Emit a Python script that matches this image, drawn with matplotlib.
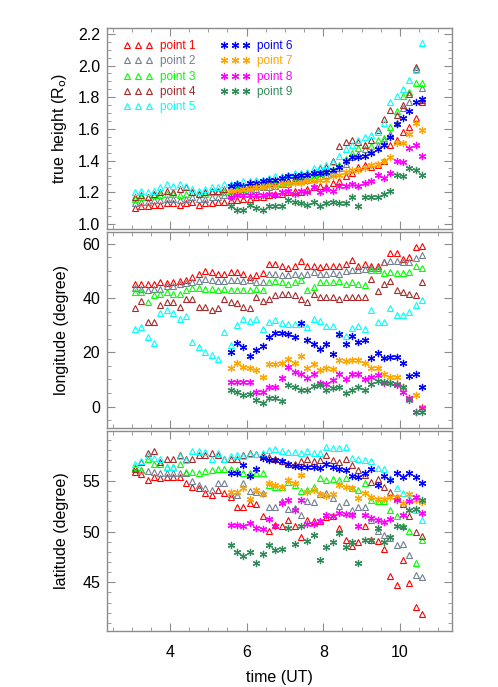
import numpy as np
import matplotlib.pyplot as plt
from matplotlib.ticker import MultipleLocator, FormatStrFormatter

plt.rcParams['font.family'] = ['Liberation Sans', 'DejaVu Sans']

#############################################
# time axis: 10 min cadence, points 1-5 start at ~3:05 UT, points 6-9 at ~5:35 UT
t_all = 3.0833 + np.arange(46) / 6.0
t_late = t_all[15:]

names = ['point 1', 'point 2', 'point 3', 'point 4', 'point 5',
         'point 6', 'point 7', 'point 8', 'point 9']
colors = ['#ff0000', '#708090', '#00ff00', '#a52a2a', '#00ffff',
          '#0000ff', '#ffa500', '#ff00ff', '#2e8b57']

#############################################
# true height (R_o)
h1 = [1.10, 1.11, 1.11, 1.12, 1.12, 1.13, 1.13, 1.12, 1.13, 1.14, 1.12, 1.13, 1.13, 1.14, 1.14, 1.15,
      1.15, 1.16, 1.16, 1.17, 1.17, 1.18, 1.19, 1.19, 1.20, 1.21, 1.20, 1.22, 1.23, 1.24, 1.23, 1.26,
      1.27, 1.30, 1.32, 1.36, 1.37, 1.36, 1.37, 1.40, 1.50, 1.53, 1.58, 1.61, 1.67, 1.77]
h2 = [1.13, 1.14, 1.14, 1.15, 1.15, 1.16, 1.16, 1.15, 1.16, 1.17, 1.16, 1.16, 1.17, 1.17, 1.18, 1.19,
      1.20, 1.21, 1.21, 1.22, 1.23, 1.23, 1.24, 1.25, 1.25, 1.27, 1.27, 1.28, 1.29, 1.30, 1.31, 1.32,
      1.35, 1.38, 1.42, 1.44, 1.47, 1.46, 1.50, 1.53, 1.57, 1.64, 1.73, 1.77, 1.98, 1.86]
h3 = [1.16, 1.17, 1.17, 1.18, 1.18, 1.19, 1.19, 1.18, 1.19, 1.20, 1.19, 1.19, 1.20, 1.20, 1.20, 1.21,
      1.22, 1.22, 1.23, 1.24, 1.24, 1.25, 1.26, 1.26, 1.27, 1.28, 1.29, 1.30, 1.31, 1.32, 1.33, 1.34,
      1.37, 1.41, 1.45, 1.48, 1.50, 1.49, 1.53, 1.54, 1.61, 1.71, 1.81, 1.83, 1.89, 1.89]
h4 = [1.17, 1.18, 1.17, 1.19, 1.20, 1.21, 1.20, 1.22, 1.23, 1.20, 1.19, 1.20, 1.21, 1.21, 1.22, 1.23,
      1.23, 1.24, 1.25, 1.25, 1.26, 1.26, 1.27, 1.28, 1.28, 1.29, 1.30, 1.32, 1.33, 1.35, 1.36, 1.40,
      1.49, 1.52, 1.53, 1.52, 1.50, 1.53, 1.59, 1.66, 1.72, 1.69, 1.75, 1.82, 1.99, 1.78]
h5 = [1.20, 1.21, 1.20, 1.21, 1.23, 1.25, 1.24, 1.25, 1.24, 1.22, 1.21, 1.22, 1.23, 1.23, 1.25, 1.25,
      1.26, 1.27, 1.27, 1.28, 1.28, 1.29, 1.30, 1.30, 1.31, 1.32, 1.32, 1.33, 1.35, 1.36, 1.37, 1.39,
      1.43, 1.47, 1.50, 1.53, 1.55, 1.56, 1.58, 1.64, 1.77, 1.81, 1.85, 1.91, 1.97, 2.14]
h6 = [1.24, 1.25, 1.24, 1.26, 1.26, 1.27, 1.28, 1.28, 1.29, 1.30, 1.30, 1.31, 1.31, 1.32, 1.32, 1.33,
      1.34, 1.36, 1.40, 1.42, 1.42, 1.43, 1.45, 1.47, 1.50, 1.55, 1.63, 1.67, 1.71, 1.77, 1.79]
h7 = [1.21, 1.21, 1.22, 1.22, 1.23, 1.23, 1.24, 1.24, 1.25, 1.25, 1.26, 1.26, 1.27, 1.27, 1.28, 1.28,
      1.30, 1.31, 1.33, 1.34, 1.34, 1.35, 1.37, 1.38, 1.40, 1.42, 1.51, 1.51, 1.57, 1.64, 1.59]
h8 = [1.17, 1.18, 1.18, 1.18, 1.18, 1.18, 1.19, 1.18, 1.20, 1.21, 1.19, 1.21, 1.20, 1.23, 1.20, 1.22,
      1.21, 1.24, 1.24, 1.25, 1.24, 1.26, 1.27, 1.31, 1.29, 1.32, 1.40, 1.39, 1.48, 1.50, 1.43]
h9 = [1.11, 1.09, 1.09, 1.12, 1.10, 1.09, 1.11, 1.11, 1.11, 1.15, 1.14, 1.13, 1.12, 1.14, 1.11, 1.13,
      1.14, 1.13, 1.13, 1.17, 1.11, 1.17, 1.17, 1.17, 1.19, 1.21, 1.31, 1.30, 1.35, 1.34, 1.31]

#############################################
# longitude (degree)
lon1 = [45.3, 45.3, 45.3, 45.3, 45.9, 45.5, 45.9, 46.5, 46.8, 47.8, 49.0, 50.0, 49.6, 49.0, 49.0, 49.6,
        49.6, 49.0, 47.8, 48.4, 49.2, 52.6, 52.6, 52.0, 51.2, 51.7, 53.6, 52.0, 51.7, 51.4, 52.0, 51.7,
        52.0, 52.6, 54.1, 51.7, 52.6, 52.0, 51.7, 53.3, 56.6, 56.6, 54.5, 55.3, 58.8, 59.4]
lon2 = [43.8, 43.5, 43.1, 43.5, 43.5, 44.3, 44.3, 45.1, 45.5, 45.9, 46.5, 47.1, 46.8, 46.5, 46.5, 46.8,
        46.8, 46.5, 46.8, 45.9, 45.9, 49.0, 49.0, 48.7, 48.4, 49.0, 48.4, 49.0, 49.6, 49.0, 49.0, 49.2,
        49.0, 50.0, 50.2, 50.4, 50.8, 51.2, 51.2, 53.3, 53.6, 53.6, 53.3, 53.3, 54.9, 56.1]
lon3 = [42.2, 42.2, 38.6, 41.0, 41.6, 42.2, 41.6, 41.6, 42.9, 43.8, 43.8, 43.5, 43.5, 43.1, 43.5, 43.1,
        42.9, 42.9, 43.1, 43.5, 43.1, 45.9, 46.5, 45.9, 45.3, 45.9, 46.8, 42.9, 44.1, 45.9, 45.9, 45.9,
        46.5, 45.1, 45.9, 45.1, 44.7, 50.2, 50.2, 49.2, 49.6, 49.2, 49.2, 49.6, 52.0, 51.2]
lon4 = [36.5, 38.9, 31.2, 31.2, 37.3, 38.6, 38.6, 36.7, 39.8, 39.8, 36.7, 36.7, 35.5, 36.5, 39.8, 38.6,
        38.2, 36.7, 36.5, 40.4, 38.9, 39.8, 41.0, 41.6, 41.6, 41.0, 39.8, 38.6, 41.6, 40.4, 40.6, 40.6,
        39.8, 40.4, 40.6, 40.4, 40.4, 47.1, 42.6, 45.1, 46.5, 42.9, 42.2, 41.6, 41.0, 45.9]
lon5 = [28.8, 29.4, 25.5, 23.3, 34.5, 35.5, 34.5, 32.4, 33.3, 23.9, 21.8, 20.2, 19.0, 17.4, 27.5, 22.6,
        30.0, 32.4, 31.6, 32.4, 28.8, 31.2, 31.8, 30.8, 30.6, 30.6, 30.6, 29.4, 32.4, 31.6, 29.6, 29.6,
        26.7, 25.9, 29.1, 29.6, 28.8, 35.7, 31.2, 31.2, 36.5, 33.7, 33.7, 34.9, 37.3, 39.4]
lon6 = [20.2, 23.3, 21.8, 18.6, 20.8, 22.3, 25.5, 27.2, 27.2, 26.9, 25.5, 30.8, 24.5, 23.0, 21.4, 23.0,
        19.3, 26.7, 23.0, 25.9, 23.9, 24.7, 18.1, 19.6, 18.1, 18.4, 18.4, 15.9, 11.2, 12.0, 7.3]
lon7 = [14.1, 15.9, 14.7, 14.1, 13.5, 11.0, 15.7, 15.7, 15.9, 17.7, 15.9, 18.6, 14.4, 15.7, 13.5, 14.1,
        13.7, 17.1, 16.9, 17.1, 17.1, 15.9, 14.1, 14.1, 12.0, 11.0, 11.0, 7.3, 3.0, 4.3, 0.0]
lon8 = [9.2, 9.2, 9.2, 9.2, 5.5, 5.5, 7.3, 7.3, 10.4, 14.7, 12.8, 12.2, 10.4, 12.2, 8.6, 8.3,
        9.8, 12.2, 10.0, 12.2, 12.2, 10.0, 11.0, 11.6, 8.6, 8.8, 7.9, 5.5, 3.0, -1.9, -0.6]
lon9 = [6.1, 5.5, 4.3, 4.6, 2.4, 1.2, 3.0, 3.0, 2.2, 7.9, 7.3, 6.3, 6.3, 7.6, 7.9, 6.3,
        6.7, 7.3, 5.1, 6.3, 7.3, 6.1, 8.3, 9.5, 9.2, 8.8, 8.3, 7.3, 2.4, -1.9, -1.9]

#############################################
# latitude (degree)
lat1 = [55.9, 55.7, 55.1, 55.4, 55.3, 55.4, 55.4, 55.4, 54.8, 54.4, 54.3, 53.8, 53.6, 54.1, 53.8, 53.4,
        52.4, 52.4, 52.8, 52.7, 51.5, 50.1, 50.6, 50.5, 51.1, 50.5, 49.5, 51.1, 51.0, 51.0, 51.4, 51.5,
        50.3, 49.2, 48.6, 49.0, 50.5, 49.2, 49.1, 48.3, 45.6, 44.7, 47.2, 44.9, 42.6, 41.9]
lat2 = [56.3, 56.1, 56.0, 55.9, 55.8, 55.8, 55.8, 55.8, 55.8, 55.0, 54.6, 54.3, 54.1, 54.8, 54.8, 53.7,
        53.6, 54.8, 54.0, 53.9, 53.8, 52.4, 52.4, 53.0, 52.2, 52.3, 51.6, 53.0, 52.9, 53.7, 53.8, 53.3,
        52.5, 52.9, 52.1, 52.4, 52.4, 51.1, 50.1, 49.7, 49.4, 48.7, 48.8, 47.7, 45.7, 45.5]
lat3 = [56.4, 56.1, 57.1, 56.7, 56.7, 56.4, 56.4, 56.7, 55.9, 55.9, 55.8, 56.0, 56.1, 56.2, 56.2, 56.2,
        56.1, 55.8, 55.8, 55.8, 55.8, 54.6, 54.4, 54.4, 54.9, 54.6, 54.0, 54.1, 54.4, 55.3, 55.1, 55.2,
        55.1, 55.3, 54.3, 54.1, 54.8, 53.1, 53.0, 53.0, 52.1, 51.5, 50.5, 50.1, 46.9, 49.2]
lat4 = [56.2, 56.8, 57.7, 57.9, 56.8, 57.1, 57.1, 57.5, 57.1, 57.1, 57.5, 57.5, 57.7, 57.5, 57.1, 57.1,
        57.1, 57.5, 57.7, 57.6, 57.5, 57.3, 57.1, 56.9, 56.7, 56.7, 56.9, 57.1, 56.9, 57.0, 57.5, 57.0,
        56.8, 57.1, 56.6, 56.1, 55.6, 54.9, 55.2, 54.4, 53.9, 53.4, 52.7, 51.5, 50.0, 49.6]
lat5 = [56.7, 56.9, 57.4, 57.2, 57.1, 56.4, 56.4, 57.4, 57.0, 57.9, 57.9, 57.8, 57.1, 57.7, 57.1, 57.4,
        57.5, 57.4, 57.6, 57.6, 57.7, 58.0, 58.1, 57.9, 57.8, 57.8, 57.7, 57.9, 57.7, 57.7, 58.3, 58.2,
        58.2, 58.3, 57.2, 57.1, 57.0, 56.9, 56.3, 56.2, 55.3, 54.3, 53.8, 53.3, 52.1, 51.1]
lat6 = [55.8, 55.8, 56.6, 55.5, 56.2, 57.2, 57.0, 57.0, 56.9, 56.7, 56.5, 56.4, 56.4, 56.4, 56.3, 56.7,
        56.4, 56.2, 56.1, 55.5, 55.4, 55.8, 56.2, 54.6, 55.5, 55.1, 55.8, 55.4, 55.8, 55.4, 54.8]
lat7 = [53.9, 53.9, 54.3, 53.2, 54.1, 53.7, 54.8, 54.6, 54.4, 55.1, 54.8, 55.6, 53.9, 54.1, 53.7, 53.5,
        53.7, 54.6, 54.4, 54.3, 53.3, 53.8, 53.4, 53.2, 53.2, 53.4, 53.4, 52.8, 53.7, 53.1, 52.9]
lat8 = [50.6, 50.6, 50.5, 50.8, 50.3, 50.2, 51.2, 50.5, 52.8, 53.1, 52.1, 53.1, 50.7, 50.7, 51.0, 51.6,
        51.5, 51.8, 51.7, 51.6, 50.5, 51.6, 51.3, 51.1, 50.9, 51.2, 53.1, 51.6, 53.0, 53.4, 51.8]
lat9 = [48.7, 48.0, 47.6, 48.0, 46.9, 47.8, 48.7, 48.2, 48.3, 50.3, 48.8, 50.5, 49.1, 49.7, 47.2, 48.5,
        49.0, 49.9, 48.5, 49.0, 46.9, 49.2, 49.2, 50.3, 49.0, 49.5, 50.5, 50.4, 52.1, 52.2, 53.1]

heights = [h1, h2, h3, h4, h5, h6, h7, h8, h9]
lons = [lon1, lon2, lon3, lon4, lon5, lon6, lon7, lon8, lon9]
lats = [lat1, lat2, lat3, lat4, lat5, lat6, lat7, lat8, lat9]

#############################################
fig = plt.figure(figsize=(4.98, 6.87), dpi=100)
left, width = 0.2149, 0.6927
ax1 = fig.add_axes([left, 0.6667, width, 0.2925])
ax2 = fig.add_axes([left, 0.3770, width, 0.2853])
ax3 = fig.add_axes([left, 0.0815, width, 0.2911])

frame_col = '#8c8c8c'


def draw_panel(ax, series, label=True):
    for k in range(9):
        t = t_all if k < 5 else t_late
        if k < 5:
            ax.plot(t, series[k], ls='none', marker='^', ms=4.7, mfc='none',
                    mec=colors[k], mew=0.8, label=names[k] if label else None)
        else:
            ax.plot(t, series[k], ls='none', marker=(6, 2, 0), ms=5.2,
                    mec=colors[k], mew=0.9, label=names[k] if label else None)
    ax.set_xlim(2.356, 11.36)
    ax.xaxis.set_major_locator(MultipleLocator(2))
    ax.xaxis.set_minor_locator(MultipleLocator(0.5))
    ax.tick_params(which='both', direction='in', top=True, right=True,
                   color=frame_col, labelsize=11.5)
    ax.tick_params(which='major', length=6)
    ax.tick_params(which='minor', length=3)
    ax.tick_params(axis='x', pad=10)
    ax.tick_params(axis='y', pad=5)
    for s in ax.spines.values():
        s.set_color(frame_col)
        s.set_linewidth(1.0)


draw_panel(ax1, heights)
ax1.set_ylim(0.968, 2.237)
ax1.yaxis.set_major_locator(MultipleLocator(0.2))
ax1.yaxis.set_minor_locator(MultipleLocator(0.05))
ax1.yaxis.set_major_formatter(FormatStrFormatter('%.1f'))
ax1.set_ylabel(r'true height (R$_\mathrm{o}$)', fontsize=11.5)
ax1.tick_params(labelbottom=False)
ax1.legend(loc='upper left', bbox_to_anchor=(0.047, 0.94), ncol=2, numpoints=3,
           frameon=False, fontsize=8.5, handlelength=2.47, handletextpad=0.63,
           columnspacing=2.1, labelspacing=0.28, borderpad=0, borderaxespad=0,
           labelcolor='markeredgecolor')

draw_panel(ax2, lons, label=False)
ax2.set_ylim(-7.9, 64.4)
ax2.yaxis.set_major_locator(MultipleLocator(20))
ax2.yaxis.set_minor_locator(MultipleLocator(5))
ax2.set_ylabel('longitude (degree)', fontsize=11.5)
ax2.tick_params(labelbottom=False)

draw_panel(ax3, lats, label=False)
ax3.set_ylim(40.2, 59.9)
ax3.yaxis.set_major_locator(MultipleLocator(5))
ax3.yaxis.set_minor_locator(MultipleLocator(1))
ax3.set_ylabel('latitude (degree)', fontsize=11.5)
ax3.set_xlabel('time (UT)', fontsize=11.5, labelpad=7)

for ax in (ax1, ax2, ax3):
    ax.yaxis.set_label_coords(-0.11, 0.5)

fig.savefig('out.png', dpi=100)
